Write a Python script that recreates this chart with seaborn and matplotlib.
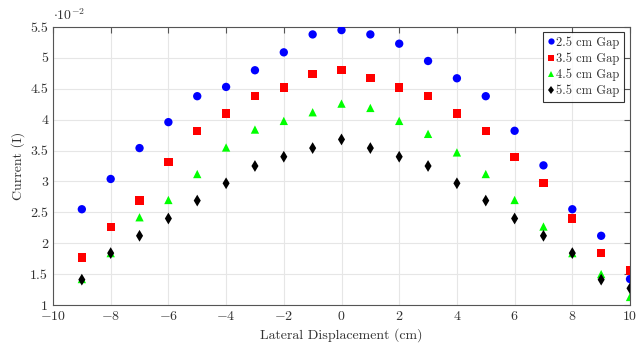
import matplotlib
matplotlib.use("Agg")
import matplotlib.pyplot as plt
import pandas as pd
import seaborn as sns

# lateral displacement (cm) and currents (x 1e-2)
displacement = list(range(-9, 11))
gap_25 = [2.55, 3.04, 3.54, 3.96, 4.38, 4.53, 4.80, 5.09, 5.38, 5.45,
          5.38, 5.23, 4.95, 4.67, 4.38, 3.82, 3.26, 2.55, 2.12, 1.42]
gap_35 = [1.77, 2.26, 2.69, 3.32, 3.82, 4.10, 4.38, 4.52, 4.74, 4.80,
          4.67, 4.52, 4.38, 4.10, 3.82, 3.40, 2.97, 2.40, 1.84, 1.56]
gap_45 = [1.42, 1.84, 2.42, 2.70, 3.12, 3.55, 3.84, 3.98, 4.12, 4.26,
          4.19, 3.98, 3.77, 3.47, 3.12, 2.70, 2.27, 1.84, 1.50, 1.13]
gap_55 = [1.41, 1.84, 2.12, 2.40, 2.69, 2.97, 3.25, 3.40, 3.54, 3.68,
          3.54, 3.40, 3.25, 2.97, 2.69, 2.40, 2.12, 1.84, 1.41, 1.27]
labels = ["2.5 cm Gap", "3.5 cm Gap", "4.5 cm Gap", "5.5 cm Gap"]

frames = []
for lab, vals in zip(labels, [gap_25, gap_35, gap_45, gap_55]):
    frames.append(pd.DataFrame({"x": displacement, "y": vals, "gap": lab}))
df = pd.concat(frames, ignore_index=True)

sns.set_style("white")
plt.rcParams['font.family'] = 'serif'
plt.rcParams['font.serif'] = ['cmr10', 'DejaVu Serif']
plt.rcParams['mathtext.fontset'] = 'cm'
plt.rcParams['axes.formatter.use_mathtext'] = True
plt.rcParams['axes.unicode_minus'] = True

palette = {labels[0]: (0, 0, 1), labels[1]: (1, 0, 0),
           labels[2]: (0, 1, 0), labels[3]: (0, 0, 0)}
markers = {labels[0]: "o", labels[1]: "s", labels[2]: "^", labels[3]: "d"}

fig = plt.figure(figsize=(6.36, 3.45), dpi=100)
ax = fig.add_axes([0.0833, 0.116, 0.9073, 0.8057])

sns.scatterplot(data=df, x="x", y="y", hue="gap", style="gap",
                palette=palette, markers=markers, s=36, linewidth=0,
                ax=ax, zorder=3)

ax.set_xlim(-10, 10)
ax.set_ylim(1, 5.5)
ax.set_xticks(range(-10, 11, 2))
ax.set_yticks([1, 1.5, 2, 2.5, 3, 3.5, 4, 4.5, 5, 5.5])
ax.set_yticklabels(["1", "1.5", "2", "2.5", "3", "3.5", "4", "4.5", "5", "5.5"])
ax.grid(True, color="#e6e6e6", linewidth=0.8)
ax.set_axisbelow(True)
for s in ax.spines.values():
    s.set_color("#555555")
    s.set_linewidth(0.8)
ax.tick_params(direction="in", length=4, color="#555555", labelsize=10,
               top=True, right=True, labelcolor="#333333")
ax.set_xlabel("Lateral Displacement (cm)", fontsize=10, color="#333333")
ax.set_ylabel("Current (I)", fontsize=10, color="#333333")
ax.text(0.0, 1.015, r"$\cdot10^{-2}$", transform=ax.transAxes,
        fontsize=10, ha="left", va="bottom", color="#333333")

leg = ax.legend(loc="upper right", bbox_to_anchor=(0.9896, 0.982),
                borderaxespad=0, frameon=True, fancybox=False, fontsize=9,
                handletextpad=0.15, borderpad=0.35, labelspacing=0.3,
                handlelength=0.6, markerscale=0.75)
leg.get_frame().set_edgecolor("black")
leg.get_frame().set_linewidth(0.8)
for t in leg.get_texts():
    t.set_color("#333333")

fig.savefig("out.png", dpi=100)
